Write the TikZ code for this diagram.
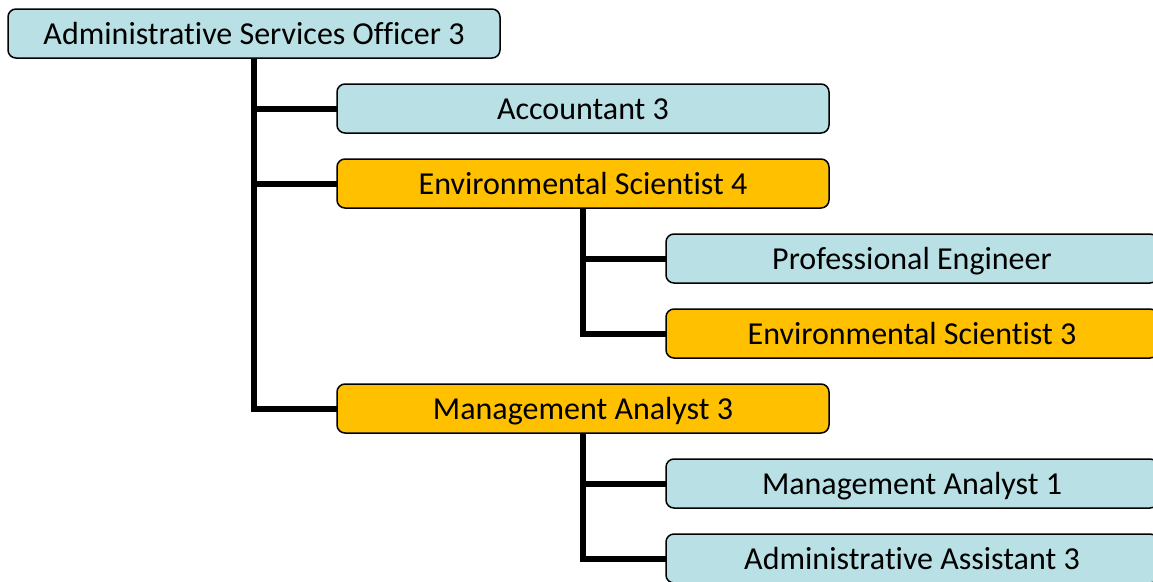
\documentclass[tikz,border=0pt]{standalone}
\usepackage{fontspec}
\setmainfont{Carlito}[Ligatures=NoCommon]
\usepackage{tikz}
\usetikzlibrary{positioning}
\definecolor{boxblue}{RGB}{185,224,228}
\definecolor{boxgold}{RGB}{255,192,0}

\begin{document}
\begin{tikzpicture}[x=1pt,y=-1pt,
        post/.style={draw=black,line width=1.5pt,rounded corners=8pt,fill=boxblue,
            minimum width=492pt,minimum height=49pt,inner sep=0pt,outer sep=0pt,
            text height=21pt,text depth=0pt,font=\fontsize{32pt}{38pt}\selectfont},
        lead/.style={post,fill=boxgold},
        link/.style={line width=6pt}]
        \clip (0,0) rectangle (1153,581);
        \node[post,anchor=north west] (aso) at (8,9) {Administrative Services Officer 3};
        \node[post,below right=26pt and 329pt of aso.south west] (acct) {Accountant 3};
        \node[lead,below=26pt of acct] (es4) {Environmental Scientist 4};
        \node[post,below right=26pt and 329pt of es4.south west] (pe) {Professional Engineer};
        \node[lead,below=26pt of pe] (es3) {Environmental Scientist 3};
        \node[lead,below=176pt of es4] (ma3) {Management Analyst 3};
        \node[post,below right=26pt and 329pt of ma3.south west] (ma1) {Management Analyst 1};
        \node[post,below=26pt of ma1] (aa3) {Administrative Assistant 3};
        \draw[link] (aso.south) |- (acct.west);
        \draw[link] (aso.south) |- (es4.west);
        \draw[link] (aso.south) |- (ma3.west);
        \draw[link] (es4.south) |- (pe.west);
        \draw[link] (es4.south) |- (es3.west);
        \draw[link] (ma3.south) |- (ma1.west);
        \draw[link] (ma3.south) |- (aa3.west);
    \end{tikzpicture}
\end{document}
